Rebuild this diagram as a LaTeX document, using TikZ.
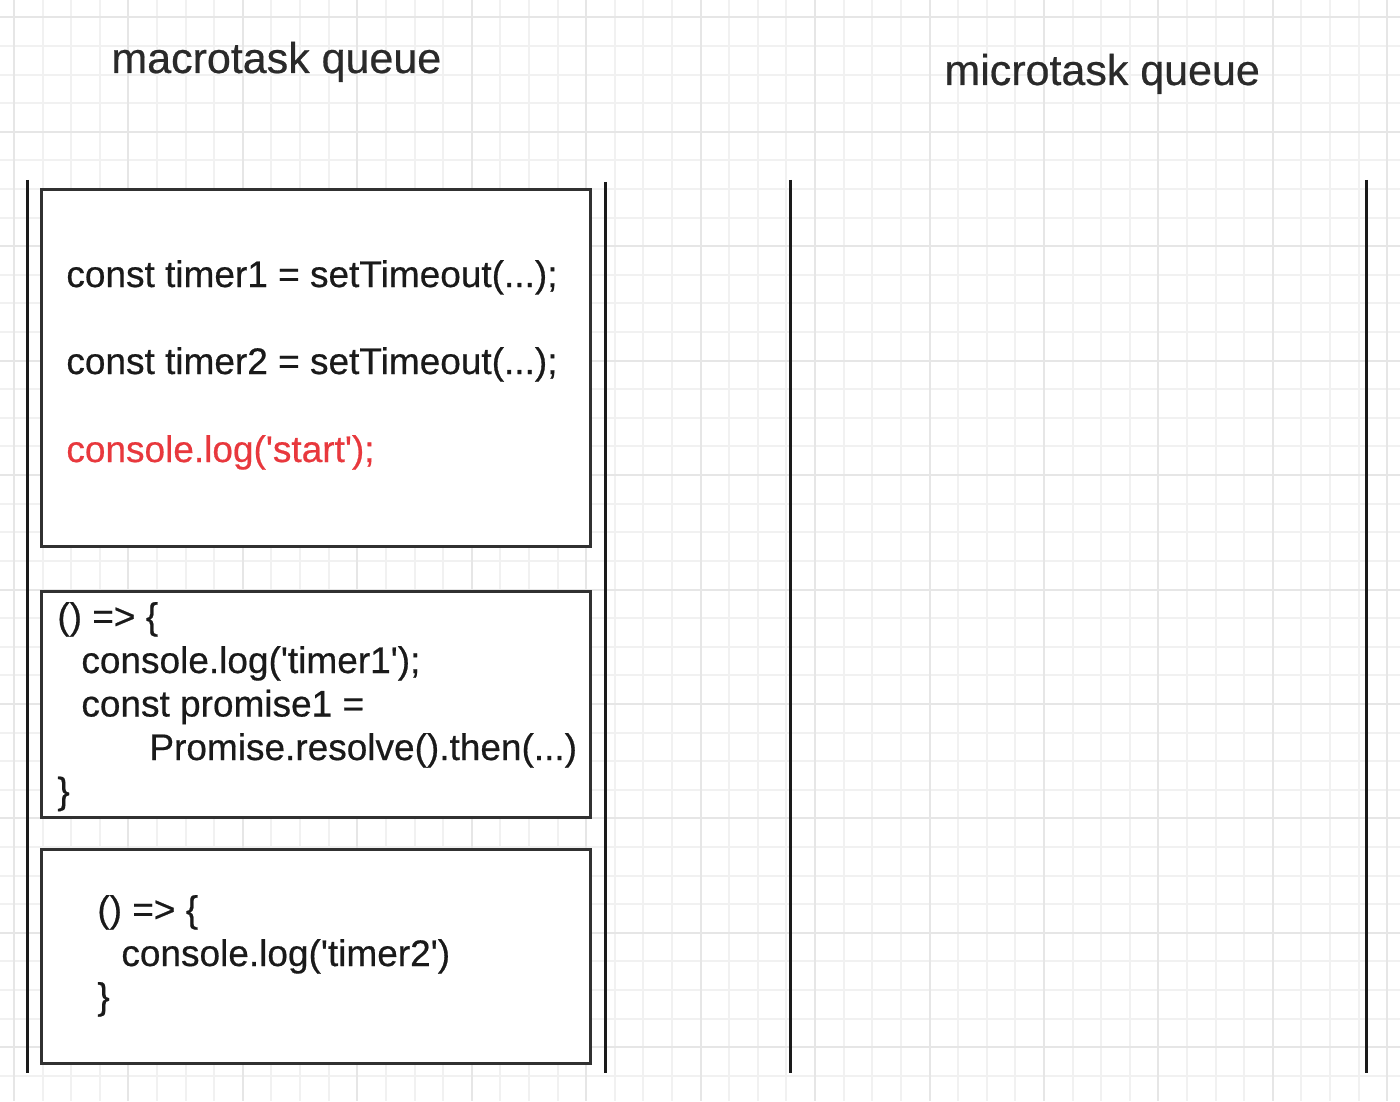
\documentclass[tikz,border=0pt]{standalone}
\usepackage{fontspec}
\setmainfont{Liberation Sans}
\newfontfamily\codefont{Liberation Sans}[FakeBold=0.5]
\definecolor{gridminor}{HTML}{F1F1F1}
\definecolor{gridmajor}{HTML}{E6E6E6}
\definecolor{ink}{HTML}{1A1A1A}
\definecolor{titleink}{HTML}{2A2A2A}
\definecolor{codered}{HTML}{E8383D}
\newcommand{\sq}{\textquotesingle}
\tikzset{
  minorgrid/.style={draw=gridminor, line width=1pt},
  majorgrid/.style={draw=gridmajor, line width=1pt},
  lane/.style={draw=ink, line width=1.5pt},
  taskbox/.style={draw=ink!90, line width=1.5pt, fill=white, rectangle, anchor=north west, inner sep=0pt, outer sep=0pt},
  code/.style={anchor=base west, inner sep=0pt, text=ink, font=\codefont\fontsize{18.5pt}{22pt}\selectfont},
  redcode/.style={code, text=codered},
  title/.style={anchor=base west, inner sep=0pt, text=titleink, font=\codefont\fontsize{21.5pt}{26pt}\selectfont},
}
\begin{document}
\begin{tikzpicture}[x=0.5pt, y=-0.5pt]
\useasboundingbox (0,0) rectangle (1400,1101);
\fill[white] (0,0) rectangle (1400,1101);
% grid
\foreach \i in {0,...,48} {\draw[minorgrid] ({14+28.61*\i},0) -- ({14+28.61*\i},1101);}
\foreach \j in {0,...,37} {\draw[minorgrid] (0,{17.3+28.61*\j}) -- (1400,{17.3+28.61*\j});}
\foreach \i in {0,4,...,48} {\draw[majorgrid] ({14+28.61*\i},0) -- ({14+28.61*\i},1101);}
\foreach \j in {0,4,...,36} {\draw[majorgrid] (0,{17.3+28.61*\j}) -- (1400,{17.3+28.61*\j});}

% titles
\node[title] (macro) at (111,73) {macrotask queue};
\node[title] (micro) at (944,85) {microtask queue};

% lane lines
\draw[lane] (27,180) -- (27,1073);
\draw[lane] (605,182) -- (605,1073);
\draw[lane] (790,180) -- (790,1073);
\draw[lane] (1366,180) -- (1366,1073);

% boxes
\node[taskbox, minimum width=274.5pt, minimum height=178pt] (box1) at (41,190) {};
\node[taskbox, minimum width=274.5pt, minimum height=113pt] (box2) at (41,591) {};
\node[taskbox, minimum width=274.5pt, minimum height=107pt] (box3) at (41,849) {};

% box 1 text
\node[code] (t1) at (66,287) {const timer1 = setTimeout(...);};
\node[code] (t2) at (66,374) {const timer2 = setTimeout(...);};
\node[redcode] (t3) at (66,462) {console.log(\sq start\sq);};

% box 2 text
\node[code] (u1) at (57,629) {() => \{};
\node[code] (u2) at (81,673) {console.log(\sq timer1\sq);};
\node[code] (u3) at (81,716.5) {const promise1 =};
\node[code] (u4) at (149,760) {Promise.resolve().then(...)};
\node[code] (u5) at (57,803.5) {\}};

% box 3 text
\node[code] (v1) at (97,922) {() => \{};
\node[code] (v2) at (121,966) {console.log(\sq timer2\sq)};
\node[code] (v3) at (97,1009) {\}};
\end{tikzpicture}
\end{document}
